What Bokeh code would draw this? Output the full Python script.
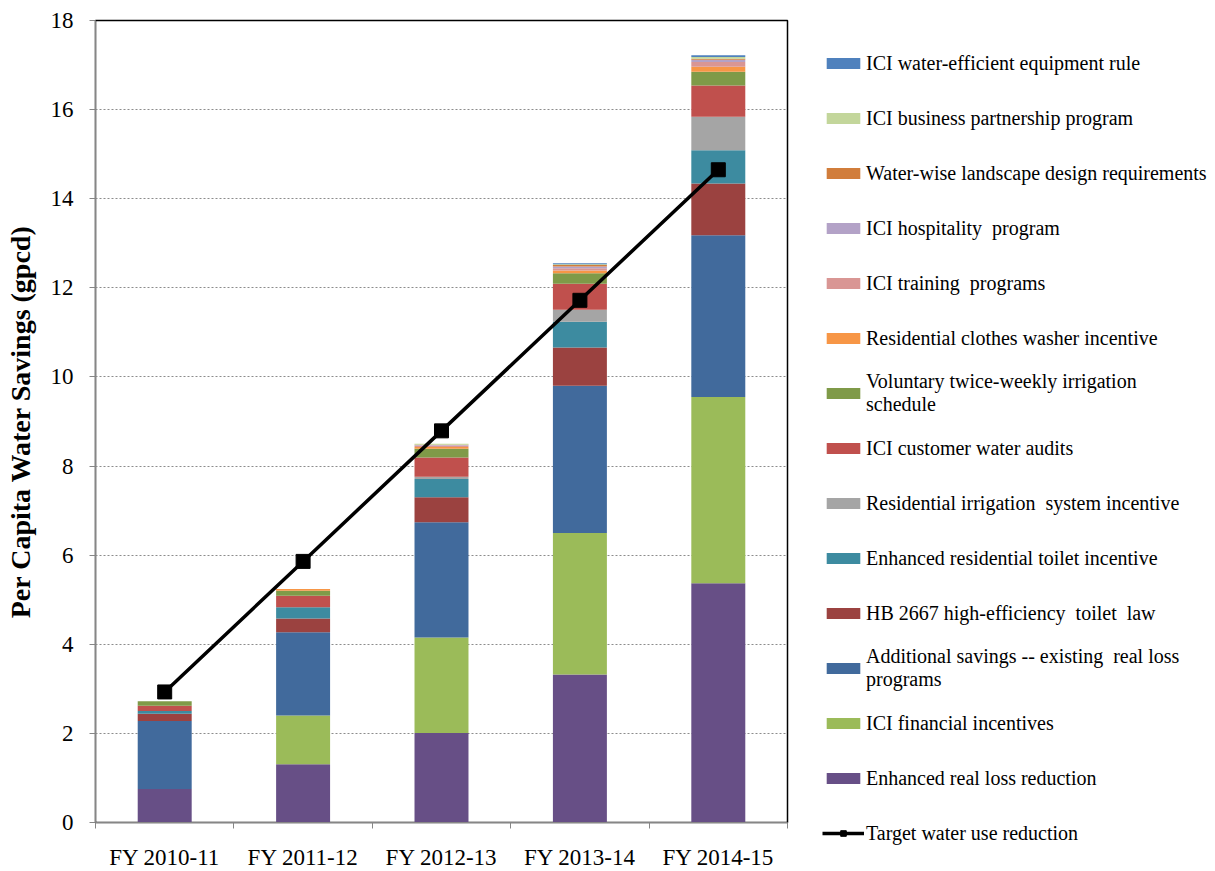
from bokeh.plotting import figure
from bokeh.models import ColumnDataSource, FixedTicker, Legend, LegendItem, Range1d
from bokeh.embed import file_html
from bokeh.resources import INLINE

years = ["FY 2010-11", "FY 2011-12", "FY 2012-13", "FY 2013-14", "FY 2014-15"]
y_ticks = [0, 2, 4, 6, 8, 10, 12, 14, 16, 18]

# stacking order, bottom to top
enhanced_real_loss = [0.75, 1.31, 2.01, 3.32, 5.37]
ici_financial = [0.00, 1.09, 2.14, 3.18, 4.18]
additional_savings = [1.53, 1.87, 2.59, 3.30, 3.63]
hb2667 = [0.16, 0.31, 0.56, 0.86, 1.16]
enhanced_toilet = [0.06, 0.25, 0.41, 0.58, 0.75]
res_irrigation = [0.00, 0.00, 0.05, 0.27, 0.75]
ici_audits = [0.12, 0.26, 0.43, 0.58, 0.70]
voluntary_irrigation = [0.10, 0.11, 0.20, 0.24, 0.31]
clothes_washer = [0.00, 0.04, 0.04, 0.06, 0.11]
ici_training = [0.00, 0.00, 0.03, 0.05, 0.11]
ici_hospitality = [0.00, 0.00, 0.01, 0.04, 0.05]
water_wise_landscape = [0.00, 0.00, 0.01, 0.03, 0.02]
ici_business = [0.00, 0.00, 0.02, 0.02, 0.04]
ici_equipment = [0.00, 0.00, 0.00, 0.02, 0.04]
target = [2.93, 5.86, 8.79, 11.72, 14.65]

series = [
    ("Enhanced real loss reduction", enhanced_real_loss, "#674F86"),
    ("ICI financial incentives", ici_financial, "#9BBB59"),
    ("Additional savings -- existing  real loss\nprograms", additional_savings, "#416A9C"),
    ("HB 2667 high-efficiency  toilet  law", hb2667, "#9B4240"),
    ("Enhanced residential toilet incentive", enhanced_toilet, "#3D8BA0"),
    ("Residential irrigation  system incentive", res_irrigation, "#A5A5A5"),
    ("ICI customer water audits", ici_audits, "#C0504D"),
    ("Voluntary twice-weekly irrigation\nschedule", voluntary_irrigation, "#7F9A48"),
    ("Residential clothes washer incentive", clothes_washer, "#F79646"),
    ("ICI training  programs", ici_training, "#D99694"),
    ("ICI hospitality  program", ici_hospitality, "#B3A2C7"),
    ("Water-wise landscape design requirements", water_wise_landscape, "#D17D3B"),
    ("ICI business partnership program", ici_business, "#C3D69B"),
    ("ICI water-efficient equipment rule", ici_equipment, "#4F81BD"),
]

xs = list(range(1, len(years) + 1))
data = {"x": xs}
keys = []
for i, (name, vals, col) in enumerate(series):
    k = f"s{i}"
    data[k] = vals
    keys.append(k)
data["target"] = target
src = ColumnDataSource(data)

FONT = "Liberation Serif"

p = figure(width=1215, height=871, output_backend="svg", toolbar_location=None,
           x_range=Range1d(0.5, 5.5), y_range=Range1d(0, 18),
           min_border_left=95, min_border_right=428, min_border_top=20, min_border_bottom=49)
p.frame_width = 692
p.frame_height = 802

renderers = p.vbar_stack(keys, x="x", width=0.39, source=src,
                         color=[c for _, _, c in series], line_color=None)
ln = p.line("x", "target", source=src, line_color="black", line_width=3.5)
sc = p.scatter("x", "target", source=src, marker="square", size=14,
               fill_color="black", line_color="black")

p.outline_line_color = "black"
p.outline_line_width = 1.5
p.xgrid.grid_line_color = None
p.ygrid.grid_line_color = "#8C8C8C"
p.ygrid.grid_line_dash = "2 2"
p.ygrid.grid_line_width = 1
p.ygrid.ticker = FixedTicker(ticks=y_ticks)

xa = p.xaxis[0]
xa.ticker = FixedTicker(ticks=xs, minor_ticks=[0.5, 1.5, 2.5, 3.5, 4.5, 5.5])
xa.major_label_overrides = {x: y for x, y in zip(xs, years)}
xa.major_tick_out = 0
xa.major_tick_in = 0
xa.minor_tick_out = 6
xa.minor_tick_in = 0
xa.minor_tick_line_color = "#868686"
xa.axis_line_color = "#868686"
xa.major_label_text_font = FONT
xa.major_label_text_font_size = "23px"
xa.major_label_text_color = "black"
xa.major_label_standoff = 16

ya = p.yaxis[0]
ya.ticker = FixedTicker(ticks=y_ticks)
ya.major_tick_out = 6
ya.major_tick_in = 0
ya.minor_tick_line_color = None
ya.axis_line_color = "#868686"
ya.major_tick_line_color = "#868686"
ya.major_label_text_font = FONT
ya.major_label_text_font_size = "23px"
ya.major_label_text_color = "black"
ya.major_label_standoff = 16
ya.axis_label = "Per Capita Water Savings (gpcd)"
ya.axis_label_text_font = FONT
ya.axis_label_text_font_style = "bold"
ya.axis_label_text_font_size = "28px"
ya.axis_label_text_color = "black"
ya.axis_label_standoff = 12

items = []
for (name, vals, col), r in reversed(list(zip(series, renderers))):
    items.append(LegendItem(label=name, renderers=[r]))
items.append(LegendItem(label="Target water use reduction", renderers=[ln, sc]))

legend = Legend(items=items, location=(35, -34), padding=0, margin=0,
                spacing=9, glyph_width=42, glyph_height=14, label_height=46,
                label_standoff=2, border_line_color=None, background_fill_alpha=0,
                label_text_font=FONT, label_text_font_size="20px", label_text_color="black")
p.add_layout(legend, "right")

open("out.html", "w").write(file_html(p, INLINE))
